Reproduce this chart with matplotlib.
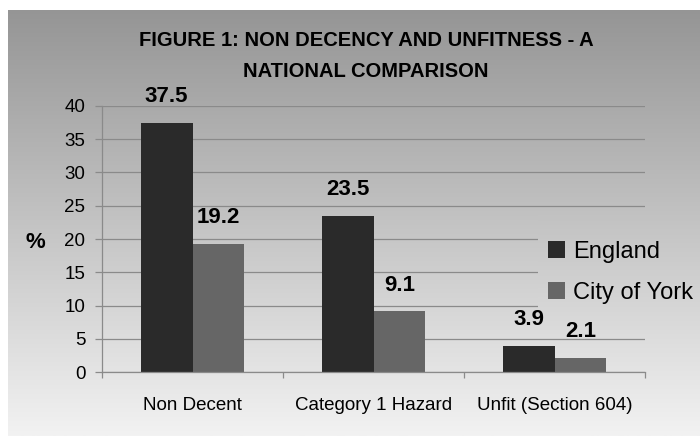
import matplotlib
matplotlib.use("Agg")
import matplotlib.pyplot as plt
import numpy as np
from matplotlib.colors import LinearSegmentedColormap

plt.rcParams['font.family'] = ['Liberation Sans', 'DejaVu Sans']

categories = ["Non Decent", "Category 1 Hazard", "Unfit (Section 604)"]
series_names = ["England", "City of York"]
england = [37.5, 23.5, 3.9]
york = [19.2, 9.1, 2.1]
title = "FIGURE 1: NON DECENCY AND UNFITNESS - A\nNATIONAL COMPARISON"

W, H = 700, 436
fig = plt.figure(figsize=(7.0, 4.36), dpi=100)
fig.patch.set_facecolor("white")

# gradient background of the chart area (starts 8px from left, 10px from top)
grad = LinearSegmentedColormap.from_list("bg", ["#959595", "#f2f2f2"])
top_px, left_px = 10, 8
bg = fig.add_axes([left_px / W, 0, 1 - left_px / W, 1 - top_px / H], zorder=-1)
bg.imshow(np.linspace(0, 1, 256).reshape(-1, 1), cmap=grad, vmin=0, vmax=1,
          aspect="auto", extent=[0, 1, 0, 1])
bg.set_axis_off()

# main plot area: x 102..645 px, y 106..372 px
ax = fig.add_axes([102 / W, (H - 372) / H, 543 / W, 266 / H])
ax.set_facecolor("none")
ax.set_axisbelow(True)

x = np.arange(len(categories))
bw = 0.287
b1 = ax.bar(x - bw / 2, england, bw, color="#2a2a2a", label=series_names[0], zorder=2)
b2 = ax.bar(x + bw / 2, york, bw, color="#666666", label=series_names[1], zorder=2)

for bars in (b1, b2):
    for r in bars:
        ax.annotate(f"{r.get_height():.1f}", (r.get_x() + r.get_width() / 2, r.get_height()),
                    xytext=(0, 15), textcoords="offset points", ha="center", va="baseline",
                    fontsize=16, fontweight="bold", color="black", zorder=3)

ax.set_xlim(-0.5, 2.5)
ax.set_ylim(0, 40)
ax.set_yticks(np.arange(0, 41, 5))
ax.yaxis.grid(True, color="#8a8a8a", lw=0.9)
ax.set_xticks(x, categories)
ax.set_xticks(np.arange(-0.5, 3, 1), minor=True)
ax.tick_params(axis="x", which="major", length=0, pad=18, labelsize=13.5)
ax.tick_params(axis="x", which="minor", length=4.5, width=0.9, color="#8a8a8a")
ax.tick_params(axis="y", length=5, width=0.9, color="#8a8a8a", pad=7, labelsize=13.5)
for s in ("top", "right"):
    ax.spines[s].set_visible(False)
for s in ("left", "bottom"):
    ax.spines[s].set_color("#8a8a8a")
    ax.spines[s].set_linewidth(0.9)

ax.set_ylabel("%", rotation=0, fontsize=16, fontweight="bold", va="center", ha="center")
ax.yaxis.set_label_coords(-0.123, 0.485)

fig.text(366 / W, 1 - 56 / H, title, ha="center", va="center", fontsize=14.5,
         fontweight="bold", linespacing=1.75)

# legend sits on its own patch of background that hides the gridlines behind it
l0, l1, t0, t1 = 538, 700, 215, 309
lax = fig.add_axes([l0 / W, (H - t1) / H, (l1 - l0) / W, (t1 - t0) / H])
ga = (t0 - top_px) / (H - top_px)
gb = (t1 - top_px) / (H - top_px)
lax.imshow(np.linspace(ga, gb, 64).reshape(-1, 1), cmap=grad, vmin=0, vmax=1,
           aspect="auto", extent=[0, 1, 0, 1])
lax.set_axis_off()
lax.legend([b1, b2], series_names, loc="center left",
           bbox_to_anchor=((548 - l0) / (l1 - l0), (t1 - 272.5) / (t1 - t0)),
           frameon=False, borderpad=0, borderaxespad=0, handlelength=0.72,
           handleheight=0.72, handletextpad=0.33, labelspacing=0.8, fontsize=17)

plt.savefig("out.png", dpi=100)
plt.close()
